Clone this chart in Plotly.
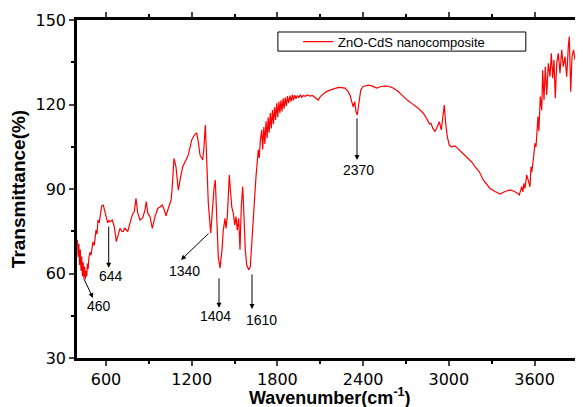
import plotly.graph_objects as go

wavenumber = [400, 405, 410, 415, 420, 425, 430, 435, 440, 445, 450, 455, 460, 465, 470, 475, 480, 488, 495, 509, 518, 530, 537, 544, 552, 560, 570, 581, 593, 603, 612, 620, 628, 644, 658, 672, 686, 698, 710, 721, 730, 738, 752, 768, 784, 798, 810, 822, 838, 857, 873, 882, 892, 908, 924, 943, 962, 980, 994, 1008, 1020, 1036, 1055, 1062, 1076, 1090, 1106, 1123, 1137, 1160, 1176, 1200, 1223, 1235, 1246, 1258, 1277, 1286, 1295, 1305, 1316, 1333, 1344, 1356, 1365, 1375, 1386, 1398, 1412, 1421, 1433, 1440, 1449, 1456, 1463, 1473, 1480, 1491, 1501, 1510, 1519, 1529, 1538, 1547, 1557, 1566, 1575, 1585, 1599, 1610, 1622, 1631, 1641, 1650, 1659, 1666, 1673, 1680, 1690, 1697, 1705, 1712, 1720, 1728, 1735, 1742, 1750, 1757, 1765, 1772, 1780, 1787, 1795, 1802, 1810, 1817, 1825, 1832, 1840, 1847, 1855, 1862, 1870, 1878, 1888, 1895, 1905, 1912, 1922, 1930, 1940, 1950, 1960, 1970, 1981, 1995, 2010, 2028, 2045, 2063, 2075, 2086, 2100, 2120, 2140, 2168, 2200, 2226, 2250, 2273, 2296, 2310, 2320, 2331, 2341, 2350, 2359, 2369, 2383, 2400, 2413, 2436, 2460, 2495, 2520, 2553, 2580, 2600, 2620, 2646, 2670, 2693, 2715, 2740, 2765, 2786, 2805, 2821, 2835, 2845, 2855, 2865, 2875, 2887, 2903, 2919, 2933, 2947, 2957, 2968, 2978, 2989, 3003, 3020, 3043, 3060, 3073, 3101, 3120, 3136, 3160, 3183, 3213, 3241, 3265, 3288, 3323, 3358, 3393, 3428, 3451, 3475, 3493, 3500, 3510, 3518, 3525, 3533, 3545, 3556, 3568, 3575, 3580, 3591, 3603, 3610, 3615, 3624, 3630, 3640, 3650, 3657, 3666, 3675, 3685, 3696, 3708, 3717, 3727, 3736, 3745, 3755, 3766, 3778, 3790, 3801, 3813, 3825, 3836, 3843, 3853, 3862, 3873, 3883, 3895, 3904, 3913, 3925, 3937]

transmittance = [72, 66, 70.5, 63, 68.5, 61, 66, 59, 64, 58.5, 62.5, 58, 61, 59, 63.5, 61.5, 65.5, 67.6, 66.5, 71.2, 70, 75.4, 74, 79, 78, 81.5, 84, 84.3, 82, 80.5, 78, 78.8, 78.4, 79, 76.6, 71.3, 73.7, 76, 75, 74.9, 76.2, 75.8, 74.9, 77.9, 80.8, 82, 86.7, 81.5, 79, 79.7, 82.6, 85.5, 81.5, 80.2, 76, 80.2, 83.1, 83.7, 84.3, 82.6, 80.5, 83.1, 86, 89.6, 100.9, 97.9, 89.6, 94.4, 97.9, 100.3, 102.1, 107.4, 109.5, 109.8, 106.8, 102.1, 100.3, 105, 112.7, 100.3, 85, 74.3, 82.6, 90.2, 93.2, 77.8, 66, 61.9, 68.4, 75.4, 79.6, 76, 80.2, 87.3, 95, 88.5, 83.7, 81.4, 77.2, 80.2, 75.4, 79.6, 68.4, 83.7, 90.8, 80.2, 68.4, 63, 61.3, 62.4, 70.7, 79, 87.3, 94.4, 99.1, 103.9, 101, 107, 110.9, 104, 112, 106, 114, 108, 115.5, 110, 117, 111.5, 118, 113, 119, 114.5, 120.4, 115.5, 121, 117, 121.5, 117.5, 122.2, 118.5, 122.5, 119.5, 123, 120.5, 123.2, 121, 123.5, 121.5, 123.3, 122, 123.2, 122.4, 123.5, 122.6, 123.2, 122.9, 123.4, 123, 123.2, 122.5, 122.2, 121.6, 122.8, 123.8, 124.5, 125.1, 125.8, 126.1, 126, 125.8, 124.6, 123, 121, 119.2, 121, 117.4, 116.3, 120.4, 125.1, 126.4, 126.6, 126.9, 126.6, 125.8, 126.3, 126.6, 126.4, 126.1, 125.5, 124.6, 123.4, 122.2, 121.3, 120.4, 119.5, 118.7, 117.7, 116.9, 115.8, 115.1, 114, 113.1, 113.3, 111.6, 110.4, 112.1, 113.9, 111, 114.5, 119.8, 113.3, 108.6, 105.6, 105, 105.3, 104.5, 103.9, 102.7, 101.8, 100.9, 99.6, 97.9, 96.1, 93.2, 91.5, 90.2, 89.1, 88.2, 89.1, 89.7, 89.3, 88.7, 87.9, 89.5, 90.8, 89, 92, 90.2, 95, 93, 90.8, 97.9, 96, 100.3, 106.2, 105, 108, 115.7, 110.5, 122.8, 118, 132.2, 121.6, 133.4, 123.4, 134.6, 129.9, 138.2, 129.3, 135.8, 122.2, 134.6, 138.2, 131.1, 139.4, 133.4, 137, 129.9, 140.5, 144.1, 124.5, 137, 139.4, 135.8, 138.2, 129.3, 140.5, 137, 138.2]

# peak labels: text, arrow tail (x, y), arrow head (x, y), text position (x, y)
peak_labels = ["460", "644", "1340", "1404", "1610", "2370"]
arrow_tail_x = [439, 619, 1328, 1391, 1622, 2357]
arrow_tail_y = [58.8, 77.2, 74.7, 58.8, 60.2, 115.6]
arrow_head_x = [509, 619, 1125, 1391, 1622, 2357]
arrow_head_y = [51.3, 62.0, 64.8, 47.8, 47.4, 100.3]
label_x = [551, 635, 1146, 1363, 1685, 2364]
label_y = [48.5, 59.1, 60.9, 44.9, 43.5, 96.8]

x_ticks = [600, 1200, 1800, 2400, 3000, 3600]
y_ticks = [30, 60, 90, 120, 150]

fig = go.Figure()
fig.add_trace(go.Scatter(
    x=wavenumber, y=transmittance, mode="lines",
    line=dict(color="#ff0000", width=1.2),
    name="ZnO-CdS nanocomposite",
))

annotations = []
for i, t in enumerate(peak_labels):
    annotations.append(dict(
        x=arrow_head_x[i], y=arrow_head_y[i], ax=arrow_tail_x[i], ay=arrow_tail_y[i],
        xref="x", yref="y", axref="x", ayref="y", text="", showarrow=True,
        arrowhead=2, arrowsize=1, arrowwidth=1, arrowcolor="black",
    ))
    annotations.append(dict(
        x=label_x[i], y=label_y[i], xref="x", yref="y", text=t, showarrow=False,
        font=dict(family="Liberation Sans, Arial", size=14, color="black"),
    ))

# x-axis title placed as a paper annotation so it sits just below the tick labels
annotations.append(dict(
    x=0.5, y=-0.115, xref="paper", yref="paper", xanchor="center", yanchor="middle",
    text="<b>Wavenumber(cm<sup>-1</sup>)</b>", showarrow=False,
    font=dict(family="Liberation Sans, Arial", size=18, color="black"),
))

# page body has an 8px default margin; size the figure so it fills the 583x407 window
fig.update_layout(
    width=575, height=399,
    margin=dict(l=69, r=0, t=12, b=49),
    plot_bgcolor="white", paper_bgcolor="white",
    font=dict(family="Liberation Sans, Arial", color="black"),
    showlegend=True,
    legend=dict(x=0.437, y=0.936, xanchor="left", yanchor="middle",
                bgcolor="rgba(0,0,0,0)", borderwidth=0,
                font=dict(size=13, family="Liberation Sans, Arial")),
    annotations=annotations,
    shapes=[dict(type="rect", xref="paper", yref="paper",
                 x0=0.397, x1=0.887, y0=0.908, y1=0.9645,
                 line=dict(color="black", width=1), fillcolor="rgba(0,0,0,0)")],
    xaxis=dict(
        range=[397, 3939], tickvals=x_ticks, ticks="outside", ticklen=5, tickwidth=2,
        showline=True, linewidth=2.5, linecolor="black", mirror="ticks",
        showgrid=False, zeroline=False, automargin=False,
        tickfont=dict(size=16, family="DejaVu Sans"),
        minor=dict(dtick=300, tick0=300, ticks="outside", ticklen=3, tickwidth=2, tickcolor="black"),
    ),
    yaxis=dict(
        range=[30, 150], tickvals=y_ticks, ticks="outside", ticklen=5, tickwidth=2,
        showline=True, linewidth=2.5, linecolor="black",
        showgrid=False, zeroline=False, automargin=False,
        tickfont=dict(size=16, family="DejaVu Sans"),
        minor=dict(dtick=15, tick0=15, ticks="outside", ticklen=3, tickwidth=2, tickcolor="black"),
        title=dict(text="<b>Transmittance(%)</b>", font=dict(size=19), standoff=6),
    ),
)

fig.write_html("out.html")
